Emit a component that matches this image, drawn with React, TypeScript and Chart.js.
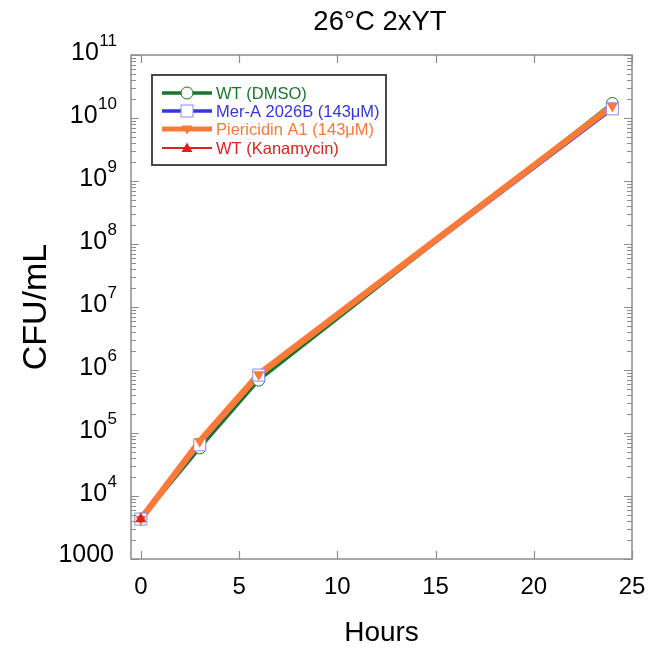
import React, { useEffect, useRef } from 'react';
import { Chart, registerables } from 'chart.js';

Chart.register(...registerables);

const chartTitle = '26°C 2xYT';
const xAxisTitle = 'Hours';
const yAxisTitle = 'CFU/mL';

const hours = [0, 3, 6, 24];
const wtDmso = [4300, 58000, 690000, 1.7e10];
const merA2026B = [4300, 65000, 830000, 1.4e10];
const piericidinA1 = [4300, 74000, 850000, 1.55e10];
const kanHours = [0];
const wtKanamycin = [4300];

const seriesNames = ['WT (DMSO)', 'Mer-A 2026B (143μM)', 'Piericidin A1 (143μM)', 'WT (Kanamycin)'];
const seriesColors = ['#17772c', '#3434e0', '#fb7a37', '#d8241c'];

const xTickValues = [0, 5, 10, 15, 20, 25];
const yTickExponents = [3, 4, 5, 6, 7, 8, 9, 10, 11];

const FONT = "'Liberation Sans', Arial, Helvetica, sans-serif";
const FRAME = '#8c8c8c';

function pts(xs: number[], ys: number[]) {
  return xs.map((x, i) => ({ x, y: ys[i] }));
}

function drawMarker(ctx: CanvasRenderingContext2D, kind: number, x: number, y: number) {
  ctx.save();
  ctx.lineWidth = 1;
  if (kind === 0) {
    ctx.beginPath();
    ctx.arc(x, y, 6, 0, Math.PI * 2);
    ctx.fillStyle = '#fff';
    ctx.fill();
    ctx.strokeStyle = seriesColors[0];
    ctx.stroke();
  } else if (kind === 1) {
    ctx.fillStyle = '#fff';
    ctx.fillRect(x - 6, y - 6, 12, 12);
    ctx.strokeStyle = '#8a8aff';
    ctx.strokeRect(x - 6, y - 6, 12, 12);
  } else if (kind === 2) {
    ctx.beginPath();
    ctx.moveTo(x - 5.5, y - 3.5);
    ctx.lineTo(x + 5.5, y - 3.5);
    ctx.lineTo(x, y + 5.5);
    ctx.closePath();
    ctx.fillStyle = seriesColors[2];
    ctx.fill();
  } else {
    ctx.beginPath();
    ctx.moveTo(x - 5.5, y + 4);
    ctx.lineTo(x + 5.5, y + 4);
    ctx.lineTo(x, y - 5.5);
    ctx.closePath();
    ctx.fillStyle = seriesColors[3];
    ctx.fill();
  }
  ctx.restore();
}

const decorPlugin = {
  id: 'decor',
  afterDraw(chart: any) {
    const ctx: CanvasRenderingContext2D = chart.ctx;
    const { left, right, top, bottom } = chart.chartArea;
    const xs = chart.scales.x;
    const ys = chart.scales.y;
    ctx.save();

    // frame
    ctx.strokeStyle = FRAME;
    ctx.lineWidth = 1.5;
    ctx.strokeRect(left, top, right - left, bottom - top);

    // x ticks (inward, top and bottom)
    ctx.lineWidth = 1.2;
    ctx.beginPath();
    for (const v of xTickValues) {
      const px = Math.round(xs.getPixelForValue(v)) + 0.5;
      ctx.moveTo(px, bottom);
      ctx.lineTo(px, bottom - 8);
      ctx.moveTo(px, top);
      ctx.lineTo(px, top + 8);
    }
    // y ticks (inward, left and right), major + minor
    for (let e = yTickExponents[0]; e <= yTickExponents[yTickExponents.length - 1]; e++) {
      for (let m = 1; m <= 9; m++) {
        const val = m * Math.pow(10, e);
        if (val > 1e11) break;
        const py = Math.round(ys.getPixelForValue(val)) + 0.5;
        const len = m === 1 ? 8 : 5;
        ctx.moveTo(left, py);
        ctx.lineTo(left + len, py);
        ctx.moveTo(right, py);
        ctx.lineTo(right - len, py);
      }
    }
    ctx.stroke();

    // x tick labels
    ctx.fillStyle = '#000';
    ctx.font = `24px ${FONT}`;
    ctx.textAlign = 'center';
    ctx.textBaseline = 'alphabetic';
    for (const v of xTickValues) {
      ctx.fillText(String(v), xs.getPixelForValue(v), 594);
    }

    // y tick labels with superscripts
    const rightX = 117;
    for (const e of yTickExponents) {
      const py = ys.getPixelForValue(Math.pow(10, e));
      if (e === 3) {
        ctx.font = `25px ${FONT}`;
        ctx.textAlign = 'right';
        ctx.fillText('1000', rightX - 3, py + 3);
      } else {
        ctx.font = `17px ${FONT}`;
        const ew = ctx.measureText(String(e)).width;
        ctx.textAlign = 'right';
        ctx.fillText(String(e), rightX, py - 9);
        ctx.font = `25px ${FONT}`;
        ctx.fillText('10', rightX - ew - 0.5, py + 5);
      }
    }

    // axis titles
    ctx.textAlign = 'center';
    ctx.font = `28px ${FONT}`;
    ctx.fillText(xAxisTitle, (left + right) / 2, 641);
    ctx.save();
    ctx.translate(46, (top + bottom) / 2);
    ctx.rotate(-Math.PI / 2);
    ctx.font = `34px ${FONT}`;
    ctx.fillText(yAxisTitle, 0, 0);
    ctx.restore();

    // chart title
    ctx.font = `27.5px ${FONT}`;
    ctx.fillText(chartTitle, 380, 30);

    // legend
    const bx = 152, by = 75, bw = 234, bh = 90;
    ctx.fillStyle = '#fff';
    ctx.fillRect(bx, by, bw, bh);
    ctx.strokeStyle = '#4a4a4a';
    ctx.lineWidth = 2;
    ctx.strokeRect(bx, by, bw, bh);
    const rows = [93, 111, 129, 148];
    const lw = [3.5, 3.5, 5, 2];
    ctx.font = `16.5px ${FONT}`;
    ctx.textAlign = 'left';
    ctx.textBaseline = 'middle';
    seriesNames.forEach((name, i) => {
      const ry = rows[i];
      ctx.strokeStyle = seriesColors[i];
      ctx.lineWidth = lw[i];
      ctx.beginPath();
      ctx.moveTo(162, ry);
      ctx.lineTo(212, ry);
      ctx.stroke();
      drawMarker(ctx, i, 187, ry);
      ctx.fillStyle = seriesColors[i];
      ctx.fillText(name, 216, ry + 1);
    });

    ctx.restore();
  },
};

export default function App() {
  const ref = useRef<HTMLCanvasElement | null>(null);
  useEffect(() => {
    if (!ref.current) return;
    const lineDs = (i: number, data: any, width: number, order: number) => ({
      type: 'line' as const,
      label: seriesNames[i] + ' line',
      data,
      borderColor: seriesColors[i],
      backgroundColor: seriesColors[i],
      borderWidth: width,
      pointRadius: 0,
      tension: 0,
      fill: false,
      order,
    });
    const chart = new Chart(ref.current, {
      type: 'line',
      data: {
        datasets: [
          lineDs(0, pts(hours, wtDmso), 3.5, 13),
          lineDs(1, pts(hours, merA2026B), 3.5, 12),
          lineDs(2, pts(hours, piericidinA1), 6.5, 11),
          lineDs(3, pts(kanHours, wtKanamycin), 2, 10),
          {
            type: 'line',
            label: seriesNames[0],
            data: pts(hours, wtDmso),
            showLine: false,
            pointStyle: 'circle',
            pointRadius: 6,
            pointBorderWidth: 1,
            pointBorderColor: seriesColors[0],
            pointBackgroundColor: '#ffffff',
            order: 4,
          },
          {
            type: 'line',
            label: seriesNames[1],
            data: pts(hours, merA2026B),
            showLine: false,
            pointStyle: 'rect',
            pointRadius: 8.5,
            pointBorderWidth: 1,
            pointBorderColor: '#8a8aff',
            pointBackgroundColor: '#ffffff',
            order: 3,
          },
          {
            type: 'line',
            label: seriesNames[2],
            data: pts(hours, piericidinA1),
            showLine: false,
            pointStyle: 'triangle',
            pointRotation: 180,
            pointRadius: 6.5,
            pointBorderWidth: 0,
            pointBorderColor: seriesColors[2],
            pointBackgroundColor: seriesColors[2],
            order: 2,
          },
          {
            type: 'line',
            label: seriesNames[3],
            data: pts(kanHours, wtKanamycin),
            showLine: false,
            pointStyle: 'triangle',
            pointRadius: 6.5,
            pointBorderWidth: 0,
            pointBorderColor: seriesColors[3],
            pointBackgroundColor: seriesColors[3],
            order: 1,
          },
        ] as any,
      },
      options: {
        responsive: false,
        animation: false,
        devicePixelRatio: 1,
        layout: { padding: { left: 0, right: 17, top: 55, bottom: 0 } },
        plugins: {
          legend: { display: false },
          title: { display: false },
          tooltip: { enabled: false },
        },
        scales: {
          x: {
            type: 'linear',
            min: -0.5,
            max: 25,
            grid: { display: false, drawTicks: false },
            border: { display: false },
            ticks: { display: false },
            afterFit: (s: any) => { s.height = 90; },
          },
          y: {
            type: 'logarithmic',
            min: 1e3,
            max: 1e11,
            grid: { display: false, drawTicks: false },
            border: { display: false },
            ticks: { display: false },
            afterFit: (s: any) => { s.width = 131; },
          },
        },
      },
      plugins: [decorPlugin],
    });
    return () => chart.destroy();
  }, []);
  return (
    <div style={{ position: 'absolute', left: 0, top: 0, width: 649, height: 649, background: '#fff' }}>
      <canvas ref={ref} width={649} height={649} />
    </div>
  );
}
